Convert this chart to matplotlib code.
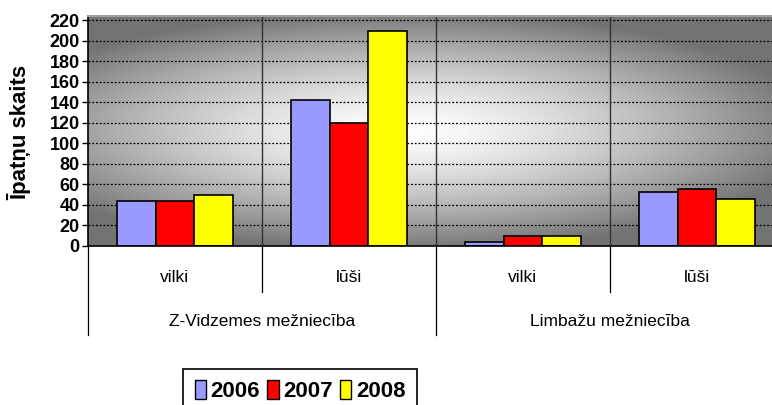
import matplotlib
matplotlib.use("Agg")
import matplotlib.pyplot as plt
import numpy as np
from matplotlib.patches import Patch
from matplotlib.transforms import blended_transform_factory

plt.rcParams["font.family"] = ["Liberation Sans Narrow", "Liberation Sans", "DejaVu Sans"]

species = ["vilki", "lūši", "vilki", "lūši"]
districts = ["Z-Vidzemes mežniecība", "Limbažu mežniecība"]
years = ["2006", "2007", "2008"]
counts_2006 = [44, 142, 4, 53]
counts_2007 = [44, 120, 10, 56]
counts_2008 = [50, 209, 10, 46]
colors = ["#9999FF", "#FF0000", "#FFFF00"]
yticks = list(range(0, 221, 20))

W, H = 772, 405
fig = plt.figure(figsize=(W / 100, H / 100), dpi=100)
# plot area runs past the right edge of the picture (cropped like the original)
ax = fig.add_axes([88 / W, (H - 246) / H, 696 / W, 230 / H])
ymax = 224
xmin, xmax = -0.5, len(species) - 0.5

# grey background with a bright centre (pixel grid over the plot area)
px, py = np.meshgrid(np.arange(88, 784), np.arange(16, 246))
d = np.sqrt(((px - 400) / 420.0) ** 2 + ((py - 130) / 120.0) ** 2)
shade = 1 - 0.55 * np.clip(d, 0, 1) ** 1.4
ax.imshow(shade, cmap="gray", vmin=0, vmax=1, extent=[xmin, xmax, 0, ymax],
          aspect="auto", zorder=0, interpolation="bilinear")

# grid
ax.hlines(yticks[1:], xmin, xmax, colors="black", linestyles=(0, (1.5, 1.5)), linewidth=0.9, zorder=1)
ax.vlines([0.5, 1.5, 2.5], 0, ymax, colors="#333333", linewidth=1.0, zorder=1)

# bars
x = np.arange(len(species))
bw = 0.222
for i, (vals, col) in enumerate(zip([counts_2006, counts_2007, counts_2008], colors)):
    ax.bar(x + (i - 1) * bw, vals, width=bw, color=col, edgecolor="black", linewidth=1.2, zorder=2)

ax.set_xlim(xmin, xmax)
ax.set_ylim(0, ymax)
ax.set_yticks(yticks)
ax.set_xticks([])
ax.tick_params(axis="y", length=4, width=1, labelsize=13, pad=2)
for lab in ax.get_yticklabels():
    lab.set_fontweight("bold")
for s in ["left", "bottom"]:
    ax.spines[s].set_color("black")
    ax.spines[s].set_linewidth(1.2)
ax.spines["top"].set_color("#a0a0a0")
ax.spines["top"].set_linewidth(1.5)
ax.spines["right"].set_visible(False)

# multi-level category axis below
tr = blended_transform_factory(ax.transData, ax.transAxes)
for xb in [0.5, 2.5]:
    ax.plot([xb, xb], [0, -0.2], color="black", linewidth=0.9, transform=tr, clip_on=False)
for xb in [-0.5, 1.5, 3.5]:
    ax.plot([xb, xb], [0, -0.387], color="black", linewidth=0.9, transform=tr, clip_on=False)
for xi, name in zip(x, species):
    ax.text(xi, -0.135, name, transform=tr, ha="center", va="center", fontsize=12.5)
for gi, name in enumerate(districts):
    ax.text(gi * 2 + 0.5, -0.33, name, transform=tr, ha="center", va="center", fontsize=12.5)

fig.text(19 / W, 1 - 132 / H, "Īpatņu skaits", rotation=90, ha="center", va="center",
         fontsize=16, fontweight="bold")

handles = [Patch(facecolor=c, edgecolor="black", linewidth=1) for c in colors]
leg = fig.legend(handles, years, loc="upper center", bbox_to_anchor=(300 / W, 1 - 369 / H),
                 ncol=3, prop={"weight": "bold", "size": 16}, frameon=True, fancybox=False,
                 edgecolor="black", framealpha=1, handlelength=0.5, handleheight=0.9,
                 columnspacing=0.35, handletextpad=0.2, borderpad=0.5, borderaxespad=0)
leg.get_frame().set_linewidth(1.2)

fig.savefig("out.png", dpi=100)
